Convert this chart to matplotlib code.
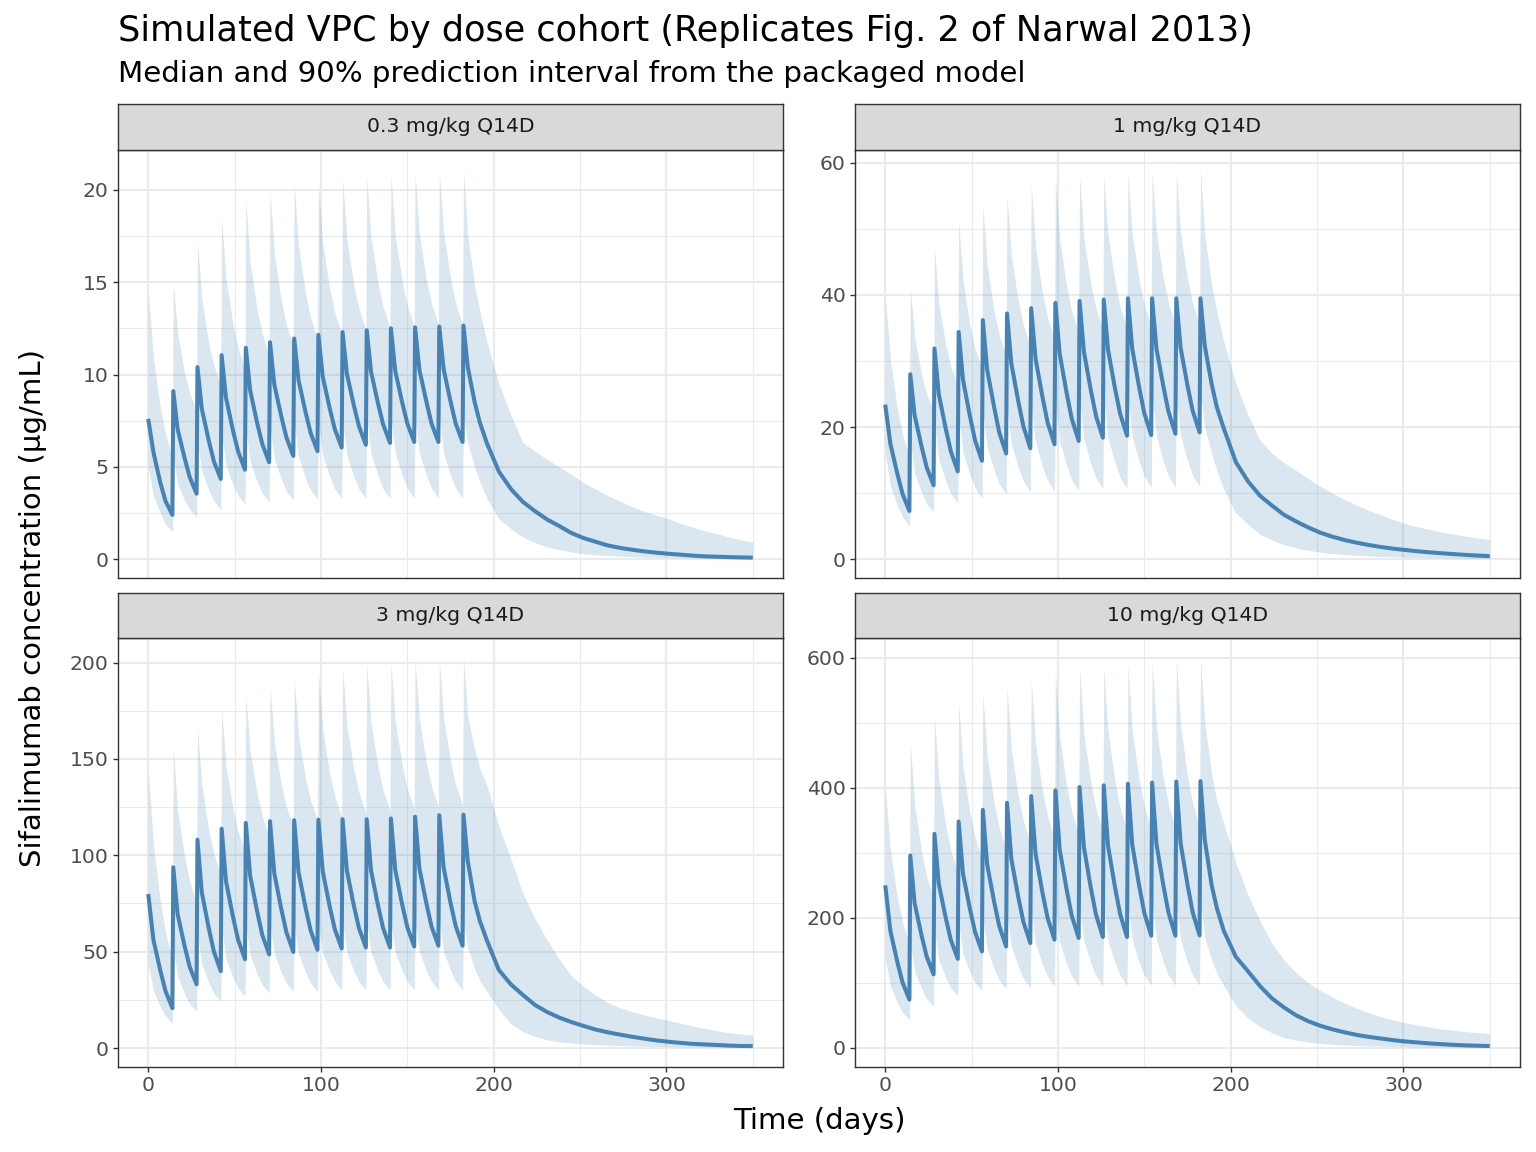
import matplotlib
matplotlib.use("Agg")
import matplotlib.pyplot as plt
from matplotlib.ticker import MultipleLocator

# ---------------- data ----------------
times = [
    0, 3, 7, 10,
    14, 14.5, 17, 21, 24,
    28, 28.5, 31, 35, 38,
    42, 42.5, 45, 49, 52,
    56, 56.5, 59, 63, 66,
    70, 70.5, 73, 77, 80,
    84, 84.5, 87, 91, 94,
    98, 98.5, 101, 105, 108,
    112, 112.5, 115, 119, 122,
    126, 126.5, 129, 133, 136,
    140, 140.5, 143, 147, 150,
    154, 154.5, 157, 161, 164,
    168, 168.5, 171, 175, 178,
    182, 182.5, 185, 189, 192,
    196, 203, 210, 217, 224, 231, 238, 245, 252, 259, 266, 273,
    280, 287, 294, 301, 308, 315, 322, 329, 336, 343, 350]

cohorts = ["0.3 mg/kg Q14D", "1 mg/kg Q14D", "3 mg/kg Q14D", "10 mg/kg Q14D"]

med_03 = [
    7.6, 5.8, 4.15, 3.15,
    2.4, 9.1, 7.05, 5.5, 4.45,
    3.55, 10.4, 8.15, 6.45, 5.3,
    4.35, 11.05, 8.75, 7.0, 5.85,
    4.85, 11.45, 9.15, 7.4, 6.25,
    5.25, 11.75, 9.45, 7.75, 6.6,
    5.6, 11.95, 9.7, 8.0, 6.85,
    5.85, 12.15, 9.9, 8.2, 7.05,
    6.05, 12.3, 10.05, 8.35, 7.2,
    6.2, 12.4, 10.15, 8.45, 7.3,
    6.3, 12.5, 10.2, 8.5, 7.35,
    6.35, 12.55, 10.25, 8.55, 7.35,
    6.35, 12.6, 10.3, 8.55, 7.35,
    6.35, 12.65, 10.4, 8.5, 7.4,
    6.3, 4.75, 3.8, 3.1, 2.6, 2.15, 1.8, 1.42, 1.15, 0.95, 0.75, 0.62,
    0.52, 0.43, 0.36, 0.3, 0.25, 0.2, 0.16, 0.14, 0.12, 0.1, 0.09]
hi_03 = [
    14.5, 10.9, 8.2, 6.8,
    5.5, 15.0, 12.2, 10.1, 9.0,
    8.0, 17.2, 14.1, 11.7, 10.5,
    9.4, 18.45, 15.2, 12.75, 11.45,
    10.3, 19.4, 16.05, 13.5, 12.2,
    11.0, 19.9, 16.55, 14.0, 12.7,
    11.5, 20.3, 16.95, 14.4, 13.1,
    11.9, 20.4, 17.1, 14.65, 13.35,
    12.2, 20.6, 17.3, 14.85, 13.55,
    12.4, 20.7, 17.4, 14.95, 13.65,
    12.5, 20.8, 17.5, 15.05, 13.75,
    12.6, 20.9, 17.6, 15.15, 13.85,
    12.7, 21.0, 17.7, 15.2, 13.85,
    12.7, 21.1, 17.5, 14.8, 13.4,
    11.8, 9.5, 7.8, 6.3, 5.85, 5.4, 5.0, 4.6, 4.15, 3.8, 3.45, 3.15,
    2.85, 2.6, 2.4, 2.2, 1.95, 1.75, 1.55, 1.4, 1.2, 1.05, 0.94]
lo_03 = [
    5.0, 3.45, 2.5, 1.9,
    1.5, 5.6, 4.1, 3.2, 2.7,
    2.3, 6.4, 4.75, 3.75, 3.15,
    2.7, 6.8, 5.1, 4.05, 3.45,
    3.0, 7.1, 5.3, 4.2, 3.6,
    3.1, 7.3, 5.45, 4.35, 3.7,
    3.2, 7.4, 5.55, 4.4, 3.75,
    3.25, 7.5, 5.6, 4.5, 3.8,
    3.3, 7.6, 5.65, 4.5, 3.8,
    3.3, 7.7, 5.7, 4.55, 3.8,
    3.3, 7.75, 5.75, 4.55, 3.85,
    3.3, 7.8, 5.75, 4.55, 3.85,
    3.3, 7.8, 5.75, 4.55, 3.85,
    3.3, 7.85, 6.3, 5.0, 4.2,
    3.3, 2.2, 1.65, 1.2, 0.9, 0.67, 0.52, 0.4, 0.3, 0.24, 0.2, 0.17,
    0.14, 0.12, 0.1, 0.09, 0.08, 0.07, 0.06, 0.05, 0.05, 0.04, 0.04]

med_1 = [
    23.4, 17.45, 12.95, 9.9,
    7.3, 28.0, 21.8, 17.1, 13.9,
    11.2, 31.9, 25.0, 19.8, 16.3,
    13.3, 34.4, 27.2, 21.7, 18.0,
    14.9, 36.2, 28.7, 23.1, 19.2,
    16.0, 37.2, 29.65, 23.95, 20.1,
    16.8, 38.0, 30.4, 24.6, 20.7,
    17.4, 38.8, 31.1, 25.2, 21.25,
    17.9, 39.1, 31.45, 25.65, 21.7,
    18.4, 39.3, 31.7, 25.9, 22.0,
    18.7, 39.5, 31.85, 26.05, 22.1,
    18.8, 39.5, 31.9, 26.2, 22.3,
    19.0, 39.5, 32.0, 26.3, 22.45,
    19.2, 39.5, 32.3, 26.5, 23.0,
    19.8, 14.7, 11.8, 9.6, 8.1, 6.7, 5.7, 4.8, 4.0, 3.4, 2.9, 2.5,
    2.15, 1.85, 1.6, 1.4, 1.2, 1.05, 0.9, 0.78, 0.65, 0.55, 0.47]
hi_1 = [
    40.0, 30.2, 22.85, 18.9,
    15.5, 41.1, 33.6, 28.0, 25.0,
    22.4, 47.1, 38.8, 32.5, 29.2,
    26.3, 51.1, 42.2, 35.5, 31.9,
    28.8, 53.6, 44.5, 37.6, 34.0,
    30.8, 55.1, 45.9, 39.1, 35.4,
    32.2, 56.7, 47.3, 40.3, 36.6,
    33.3, 57.9, 48.4, 41.3, 37.5,
    34.2, 57.9, 48.6, 41.7, 38.0,
    34.7, 58.2, 48.9, 42.0, 38.2,
    35.0, 58.4, 49.2, 42.2, 38.5,
    35.3, 58.7, 49.4, 42.5, 38.7,
    35.5, 58.7, 49.4, 42.5, 38.7,
    35.5, 59.0, 49.0, 41.4, 37.5,
    33.0, 26.6, 21.8, 18.0, 16.0, 14.6, 13.4, 12.2, 11.0, 10.0, 9.0, 8.2,
    7.4, 6.7, 6.0, 5.4, 4.9, 4.5, 4.1, 3.8, 3.5, 3.2, 3.0]
lo_1 = [
    16.0, 11.1, 8.15, 6.4,
    5.1, 17.9, 13.0, 10.1, 8.4,
    7.1, 20.5, 15.1, 11.9, 9.95,
    8.5, 21.8, 16.2, 12.8, 10.8,
    9.3, 22.7, 16.95, 13.5, 11.45,
    9.9, 23.4, 17.45, 13.9, 11.8,
    10.2, 23.7, 17.7, 14.05, 11.9,
    10.3, 24.0, 17.9, 14.2, 12.05,
    10.4, 24.3, 18.2, 14.5, 12.35,
    10.7, 24.6, 18.35, 14.6, 12.35,
    10.7, 24.8, 18.55, 14.8, 12.55,
    10.9, 25.0, 18.65, 14.85, 12.6,
    10.9, 25.0, 18.7, 14.9, 12.7,
    11.0, 25.1, 20.0, 16.0, 13.4,
    10.6, 7.0, 5.3, 3.8, 2.9, 2.2, 1.7, 1.35, 1.05, 0.85, 0.7, 0.6,
    0.5, 0.42, 0.36, 0.3, 0.26, 0.22, 0.19, 0.16, 0.14, 0.12, 0.1]

med_3 = [
    79.9, 56.2, 40.2, 29.6,
    20.7, 93.8, 69.5, 53.1, 42.2,
    33.1, 108.1, 80.8, 62.4, 50.1,
    39.9, 113.8, 86.7, 68.4, 56.3,
    46.1, 116.8, 89.5, 71.1, 58.8,
    48.6, 117.7, 90.6, 72.3, 60.1,
    49.9, 118.2, 91.3, 73.2, 61.1,
    51.0, 118.5, 91.8, 73.7, 61.7,
    51.7, 118.7, 92.1, 74.1, 62.2,
    52.2, 118.7, 92.1, 74.1, 62.2,
    52.2, 119.1, 92.5, 74.6, 62.7,
    52.7, 120.0, 93.2, 75.2, 63.1,
    53.1, 120.8, 93.7, 75.4, 63.3,
    53.1, 121.1, 97.0, 76.0, 66.0,
    56.0, 40.5, 33.0, 27.5, 22.3, 18.7, 15.8, 13.5, 11.5, 9.6, 8.2, 7.0,
    5.9, 4.9, 4.0, 3.3, 2.7, 2.2, 1.9, 1.6, 1.3, 1.1, 1.0]
hi_3 = [
    145, 105.4, 75.7, 59.9,
    46, 155.6, 123.4, 99.2, 86.3,
    75, 167, 136.2, 113.1, 100.8,
    90, 176, 146.4, 124.2, 112.4,
    102, 183, 153.8, 131.9, 120.2,
    110, 188, 158.8, 136.9, 125.2,
    115, 192, 162.4, 140.2, 128.4,
    118, 195.7, 165.4, 142.7, 130.6,
    120, 197.4, 167.2, 144.6, 132.6,
    122, 199.1, 168.7, 145.8, 133.7,
    123, 200, 169.6, 146.8, 134.6,
    124, 200.9, 170.5, 147.8, 135.6,
    125, 201.7, 171.4, 148.7, 136.6,
    126, 202.6, 172, 155, 145,
    136.5, 115, 98, 80, 67, 56, 46, 37.5, 32, 27.5, 23.7, 21,
    19, 17.2, 15.6, 14.4, 12.9, 11.5, 10.2, 9.0, 8.0, 7.3, 6.8]
lo_3 = [
    44, 30.0, 21.6, 16.6,
    12.9, 52, 37.2, 28.2, 23.0,
    19, 59.5, 43.6, 34.1, 28.4,
    24.2, 62.6, 46.5, 36.9, 31.2,
    26.9, 64.2, 48.2, 38.6, 32.9,
    28.6, 64.7, 48.8, 39.3, 33.6,
    29.4, 65, 49.0, 39.4, 33.7,
    29.4, 65.2, 49.5, 40.1, 34.5,
    30.3, 65.3, 49.6, 40.1, 34.5,
    30.3, 65.3, 49.6, 40.1, 34.5,
    30.3, 65.5, 49.7, 40.2, 34.5,
    30.3, 66, 50.0, 40.3, 34.6,
    30.3, 66.4, 50.2, 40.4, 34.6,
    30.3, 66.6, 52, 41, 35,
    29.5, 20, 12.5, 8.5, 6.0, 4.3, 3.2, 2.6, 2.1, 1.8, 1.55, 1.35,
    1.15, 1.0, 0.85, 0.75, 0.65, 0.55, 0.5, 0.45, 0.4, 0.35, 0.3]

med_10 = [
    250, 179.8, 132.3, 100.7,
    74.4, 295.6, 222.6, 173.3, 140.4,
    113, 329, 252.2, 200.3, 165.7,
    136.9, 348, 268.1, 214.2, 178.3,
    148.3, 366, 282, 225.3, 187.5,
    156, 376.7, 290.5, 232.3, 193.5,
    161.2, 387, 298.8, 239.2, 199.5,
    166.4, 395.8, 305.1, 243.8, 203,
    169, 401, 308.8, 246.6, 205.1,
    170.5, 403.6, 310.4, 247.4, 205.5,
    170.5, 406, 312.6, 249.6, 207.6,
    172.6, 407.8, 313.7, 250.2, 207.9,
    172.6, 409.3, 314.8, 251, 208.4,
    173, 410, 320, 250, 215,
    180, 140, 118, 95, 76, 62, 50, 41, 34, 28.5, 24, 20,
    17, 14.5, 12, 10, 8.5, 7, 5.8, 4.8, 4.0, 3.4, 3.0]
hi_10 = [
    400, 304, 232, 193.6,
    160, 470, 374, 302, 263.6,
    230, 508.5, 413.1, 341.6, 303.4,
    270, 529, 433.4, 361.7, 323.5,
    290, 545, 449, 377, 338.6,
    305, 555, 459, 387, 348.6,
    315, 565, 467.8, 394.9, 356,
    322, 578, 478, 403, 363,
    328, 585, 483.8, 407.9, 367.4,
    332, 586, 485.2, 409.6, 369.3,
    334, 589, 487.8, 411.9, 371.4,
    336, 594, 491.6, 414.8, 373.8,
    338, 599, 495.4, 417.7, 376.3,
    340, 600, 500, 420, 380,
    345, 285, 235, 195, 160, 135, 115, 100, 88, 78, 69, 61,
    54, 48, 43, 39, 35, 32, 29, 27, 25, 23.5, 22]
lo_10 = [
    137.5, 95.2, 69.7, 54.7,
    43.4, 162.6, 118.2, 91.6, 75.8,
    64, 181, 135.6, 108.3, 92.1,
    80, 191.4, 144.8, 116.9, 100.3,
    87.9, 201.3, 151.5, 121.7, 104,
    90.7, 207.2, 155.8, 125, 106.7,
    93, 212.9, 159.8, 128, 109.1,
    95, 217.7, 162.5, 129.4, 109.7,
    95, 220.6, 164.5, 130.9, 111,
    96, 222, 165.3, 131.3, 111.1,
    96, 223.3, 166, 131.7, 111.3,
    96, 224.3, 166.6, 131.9, 111.4,
    96, 225.1, 167, 132.1, 111.5,
    96, 225.5, 170, 135, 115,
    96, 65, 46, 33, 23, 16, 12, 9, 7, 5.5, 4.5, 3.7,
    3.1, 2.6, 2.2, 1.9, 1.6, 1.4, 1.2, 1.0, 0.9, 0.8, 0.7]

y_steps = [5, 20, 50, 200]
x_ticks = [0, 100, 200, 300]

title = "Simulated VPC by dose cohort (Replicates Fig. 2 of Narwal 2013)"
subtitle = "Median and 90% prediction interval from the packaged model"
x_title = "Time (days)"
y_title = "Sifalimumab concentration (\u00b5g/mL)"

# ---------------- layout ----------------
W, H = 1536, 1152
fig = plt.figure(figsize=(W / 100, H / 100), dpi=100)


def rect(x0, y0, x1, y1):
    return [x0 / W, 1 - y1 / H, (x1 - x0) / W, (y1 - y0) / H]


panel_px = [(118, 150, 783, 578), (855, 150, 1520, 578),
            (118, 638, 783, 1067), (855, 638, 1520, 1067)]
strip_px = [(118, 104, 783, 150), (855, 104, 1520, 150),
            (118, 593, 783, 638), (855, 593, 1520, 638)]

series = [(med_03, lo_03, hi_03), (med_1, lo_1, hi_1),
          (med_3, lo_3, hi_3), (med_10, lo_10, hi_10)]

BLUE = "#4682B4"
DARK = "#333333"

for i, (label, (med, lo, hi), step) in enumerate(zip(cohorts, series, y_steps)):
    ax = fig.add_axes(rect(*panel_px[i]))
    ax.set_facecolor("white")
    ax.fill_between(times, lo, hi, color=BLUE, alpha=0.2, lw=0, zorder=2)
    ax.plot(times, med, color=BLUE, lw=2.9, solid_joinstyle="round",
            solid_capstyle="butt", zorder=3)
    ax.set_xlim(-17.5, 367.5)
    ax.margins(y=0.05)
    ax.xaxis.set_major_locator(plt.FixedLocator(x_ticks))
    ax.xaxis.set_minor_locator(MultipleLocator(50))
    ax.yaxis.set_major_locator(MultipleLocator(step))
    ax.yaxis.set_minor_locator(MultipleLocator(step / 2))
    ax.grid(which="major", color="#EBEBEB", lw=1.45, zorder=0)
    ax.grid(which="minor", color="#EBEBEB", lw=0.75, zorder=0)
    ax.set_axisbelow(True)
    for s in ax.spines.values():
        s.set_color(DARK)
        s.set_linewidth(1.0)
        s.set_zorder(5)
    ax.tick_params(which="major", labelsize=14.7, labelcolor="#4D4D4D",
                   color=DARK, length=3.8, width=1.0, pad=3)
    ax.tick_params(which="minor", length=0)
    if i < 2:
        ax.tick_params(axis="x", which="both", length=0, labelbottom=False)

    sax = fig.add_axes(rect(*strip_px[i]))
    sax.set_facecolor("#D9D9D9")
    sax.set_xticks([])
    sax.set_yticks([])
    for s in sax.spines.values():
        s.set_color(DARK)
        s.set_linewidth(1.0)
    sax.text(0.5, 0.5, label, ha="center", va="center", fontsize=14.7,
             color="#1A1A1A", transform=sax.transAxes)

fig.text(118 / W, 1 - 41 / H, title, fontsize=25.3, ha="left", va="baseline",
         color="black")
fig.text(118 / W, 1 - 82 / H, subtitle, fontsize=21.1, ha="left",
         va="baseline", color="black")
fig.text(819 / W, 1 - 1121 / H, x_title, fontsize=21.1, ha="center",
         va="center", color="black")
fig.text(33 / W, 1 - 608 / H, y_title, fontsize=21.0, ha="center",
         va="center", rotation=90, color="black")

fig.savefig("out.png", dpi=100)
